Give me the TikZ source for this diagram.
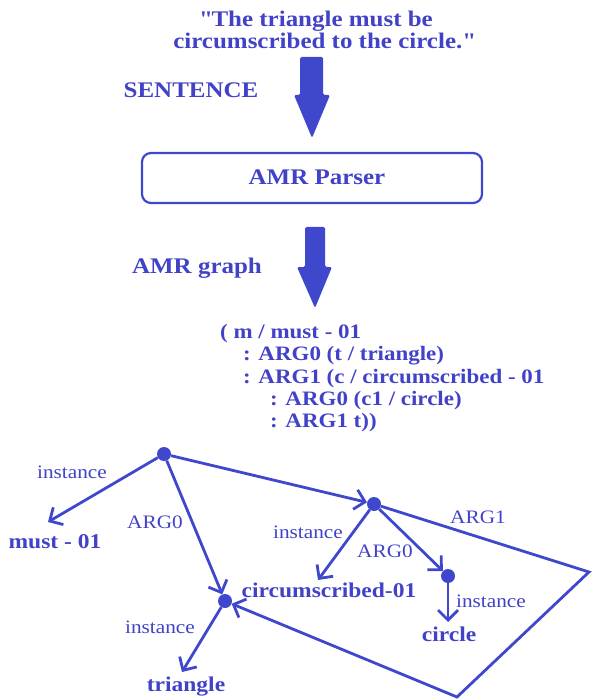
\documentclass[tikz,border=0pt]{standalone}
\usepackage{fontspec}
\setmainfont{Liberation Serif}[FakeStretch=1.12]
\usetikzlibrary{arrows.meta}
\definecolor{amr}{RGB}{63,72,204}
\definecolor{amrtext}{RGB}{66,66,200}
\begin{document}
\begin{tikzpicture}[x=1pt,y=-1pt,
  lw/.style={line width=2.8pt, draw=amr},
  edge/.style={lw, -{Straight Barb[length=10pt,width=20pt]}},
  dot/.style={circle, fill=amr, inner sep=0pt, minimum size=14pt},
  head/.style={font=\fontsize{22.3}{26}\selectfont\bfseries, text=amrtext, inner sep=0pt, anchor=base},
  bold/.style={font=\fontsize{21}{24}\selectfont\bfseries, text=amrtext, inner sep=0pt, anchor=base},
  code/.style={font=\fontsize{20.5}{24}\selectfont\bfseries, text=amrtext, inner sep=0pt, anchor=base west},
  lab/.style={font=\fontsize{19}{22}\selectfont, text=amrtext, inner sep=0pt, anchor=base},
  bigarrow/.style={fill=amr, rounded corners=1.5pt}
]
\useasboundingbox (0,0) rectangle (592,700);

% title
\node[head] (title1) at (316,27) {\textquotedbl The triangle must be};
\node[head] (title2) at (324,49) {circumscribed to the circle.\textquotedbl};
\node[head] (sentence) at (191,98) {SENTENCE};

% big arrow 1
\fill[bigarrow] (300,57) -- (323,57) -- (323,95) -- (330,95) -- (312,138) -- (294,95) -- (300,95) -- cycle;

% parser box
\node[draw=amr, line width=2.2pt, rounded corners=9pt, minimum width=340pt, minimum height=50pt, inner sep=0pt] (parser) at (312,178) {};
\node[head] (parsertext) at (317,185) {AMR Parser};

% big arrow 2
\fill[bigarrow] (305,227) -- (325,227) -- (325,267) -- (332,267) -- (315,308) -- (297,267) -- (305,267) -- cycle;
\node[head] (graphlabel) at (197,273) {AMR graph};

% AMR code
\node[code] (l1) at (220,338) {( m / must - 01};
\node[code] (l2) at (243,360) {: ARG0 (t / triangle)};
\node[code] (l3) at (243,383) {: ARG1 (c / circumscribed - 01};
\node[code] (l4) at (270,405) {: ARG0 (c1 / circle)};
\node[code] (l5) at (270,427) {: ARG1 t))};

% graph nodes
\node[dot] (m) at (164,454) {};
\node[dot] (c) at (374,504) {};
\node[dot] (c1) at (448,576) {};
\node[dot] (t) at (225,601) {};

\node[bold] (must) at (55,548) {must - 01};
\node[bold] (circum) at (329,597) {circumscribed-01};
\node[bold] (circle) at (449,641) {circle};
\node[bold] (triangle) at (186,691) {triangle};

\coordinate (mustTip) at (48,522);
\coordinate (cirTip) at (318,580);
\coordinate (circleTip) at (448,622);
\coordinate (triTip) at (182,672);
\coordinate (p1) at (589,572);
\coordinate (p2) at (457,697);

\draw[edge] (m) -- (mustTip);
\draw[edge] (m) -- (t);
\draw[edge] (m) -- (c);
\draw[edge] (c) -- (cirTip);
\draw[edge] (c) -- (c1);
\draw[edge] (c1) -- (circleTip);
\draw[edge] (t) -- (triTip);
\draw[edge, line join=miter] (c) -- (p1) -- (p2) -- (t);

% edge labels
\node[lab] (li1) at (72,478) {instance};
\node[lab] (la0) at (155,528) {ARG0};
\node[lab] (li2) at (160,633) {instance};
\node[lab] (li3) at (308,538) {instance};
\node[lab] (la1) at (385,557) {ARG0};
\node[lab] (la2) at (478,523) {ARG1};
\node[lab] (li4) at (491,607) {instance};
\end{tikzpicture}
\end{document}
